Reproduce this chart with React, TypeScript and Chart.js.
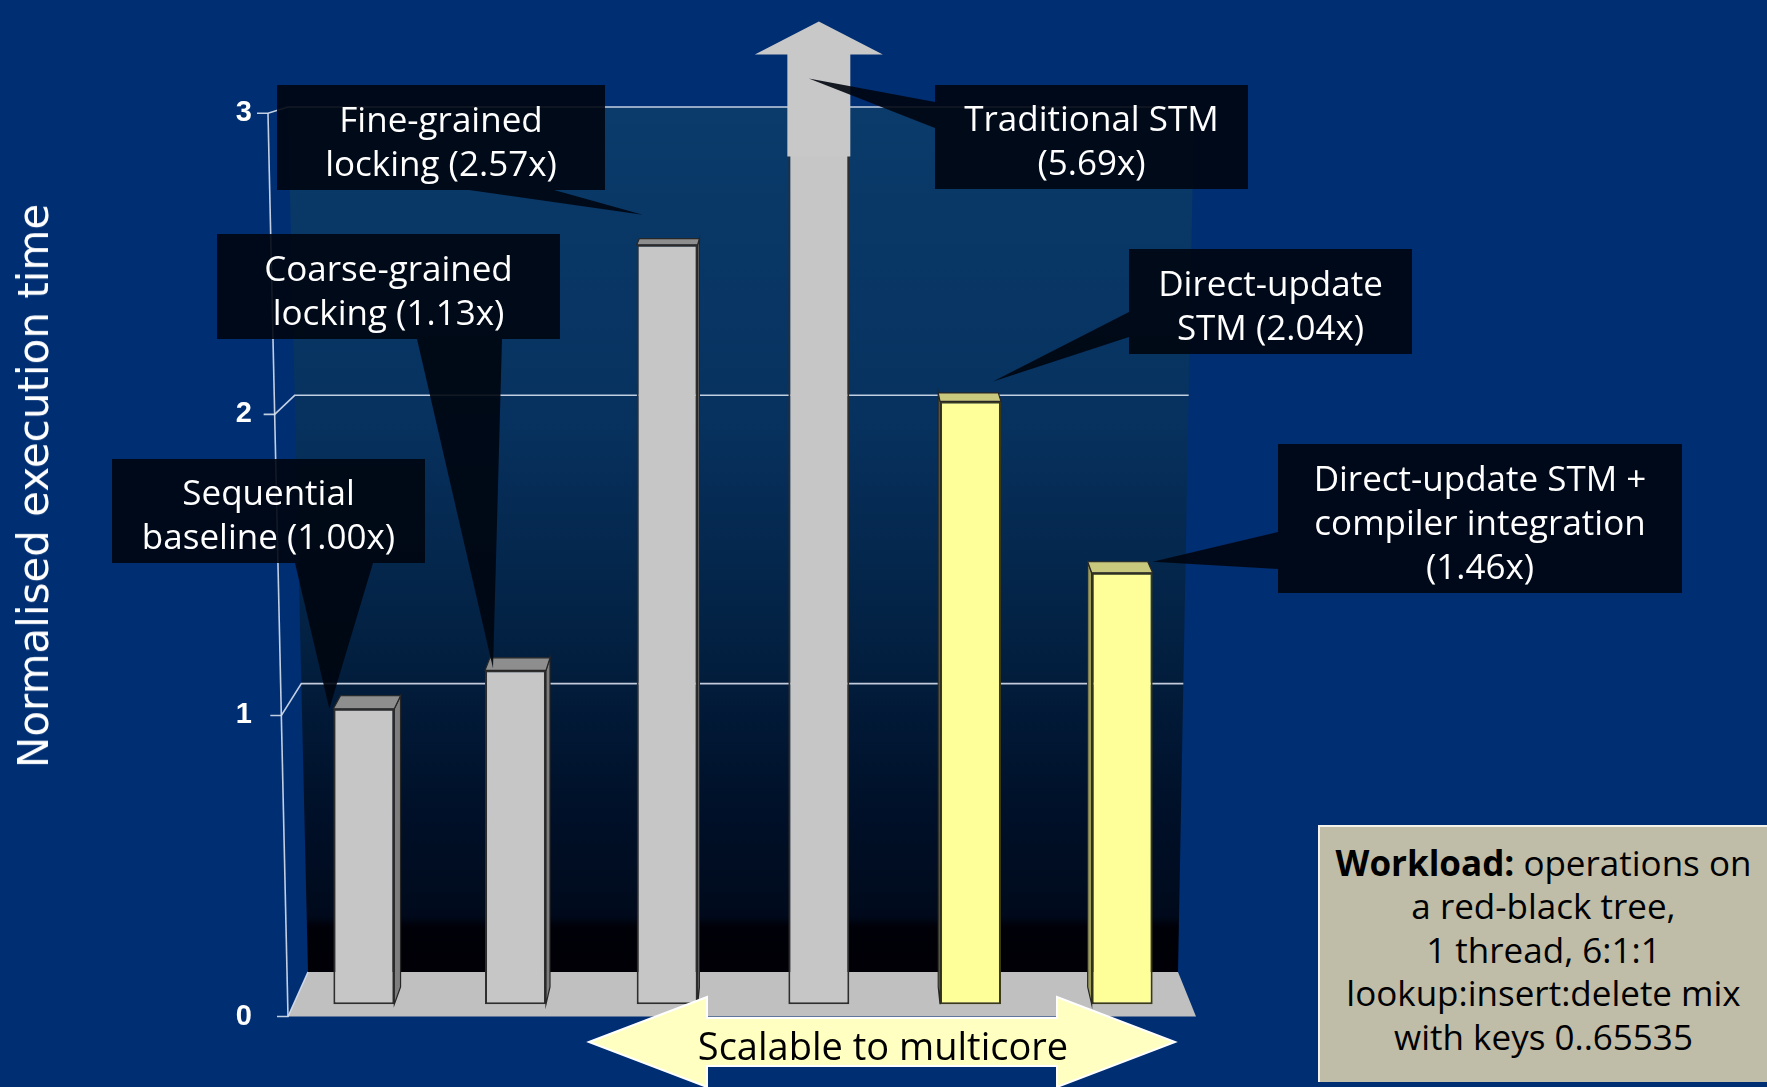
import React, { useEffect, useRef } from "react";
import { Chart, registerables } from "chart.js";

Chart.register(...registerables);

// ---------------- data ----------------
const categories = [
  "Sequential baseline",
  "Coarse-grained locking",
  "Fine-grained locking",
  "Traditional STM",
  "Direct-update STM",
  "Direct-update STM + compiler integration",
];
const values = [1.0, 1.13, 2.57, 5.69, 2.04, 1.46];
const directUpdate = [false, false, false, false, true, true];
const tickValues = [0, 1, 2, 3];
const calloutText = [
  ["Sequential", "baseline (1.00x)"],
  ["Coarse-grained", "locking (1.13x)"],
  ["Fine-grained", "locking (2.57x)"],
  ["Traditional STM", "(5.69x)"],
  ["Direct-update", "STM (2.04x)"],
  ["Direct-update STM +", "compiler integration", "(1.46x)"],
];
const axisTitle = "Normalised execution time";
const arrowText = "Scalable to multicore";
const workloadLines = [
  ["Workload:", " operations on"],
  ["", "a red-black tree,"],
  ["", "1 thread, 6:1:1"],
  ["", "lookup:insert:delete mix"],
  ["", "with keys 0..65535"],
];

// ---------------- layout / style ----------------
const W = 1767;
const H = 1087;
const BG = "#002e72";
const AXIS_W = 288;
const PAD = { left: 0, right: 569, top: 42, bottom: 57 };
const AREA_TOP = PAD.top;
const AREA_BOTTOM = H - PAD.bottom;
const BAR_ZERO = 1004;
const BAR_PPU = 299;
const FRONT_ZERO = 1016.4;
const FRONT_PPU = 304.6;
const BACK_ZERO = 971.3;
const BACK_PPU = 291.7;
const rangeFor = (zero: number, ppu: number) => ({
  min: -(AREA_BOTTOM - zero) / ppu,
  max: (zero - AREA_TOP) / ppu,
});
const VP_Y = -177;
const DEPTH_K = 0.0147;
const BOX_COLOR = "rgba(0,6,16,0.9)";

type Tip = { at: "left" | "right" | "arrow"; dx: number; dy: number };
type Box = { x: number; y: number; w: number; h: number; edge: "bottom" | "left"; b: [number, number]; tip: Tip };
const calloutBoxes: Box[] = [
  { x: 112, y: 459, w: 313, h: 104, edge: "bottom", b: [295, 373], tip: { at: "left", dx: -4, dy: 0 } },
  { x: 217, y: 234, w: 343, h: 105, edge: "bottom", b: [417, 502], tip: { at: "left", dx: 8, dy: -2 } },
  { x: 277, y: 85, w: 328, h: 105, edge: "bottom", b: [469, 554], tip: { at: "left", dx: 6, dy: -30 } },
  { x: 935, y: 85, w: 313, h: 104, edge: "left", b: [102, 128], tip: { at: "arrow", dx: -10, dy: 25 } },
  { x: 1129, y: 249, w: 283, h: 105, edge: "left", b: [312, 337], tip: { at: "right", dx: -8, dy: -20 } },
  { x: 1278, y: 444, w: 404, h: 149, edge: "left", b: [532, 569], tip: { at: "right", dx: 0, dy: -11 } },
];

const decorPlugin = {
  id: "decor3d",
  beforeDatasetsDraw(chart: any) {
    const ctx = chart.ctx as CanvasRenderingContext2D;
    const { left, right } = chart.chartArea;
    const yf = chart.scales.y2;
    const yb = chart.scales.yBack;
    const fx = (v: number) => left - 6.67 * v;
    const bl = (v: number) => left + 20 - 6.67 * v;
    const br = (v: number) => right - 20 + 5.33 * v;
    const top = yb.getPixelForValue(3);
    const bot = yb.getPixelForValue(0);
    ctx.save();
    // back wall
    const g = ctx.createLinearGradient(0, top, 0, bot);
    g.addColorStop(0, "#0a3b6a");
    g.addColorStop(0.35, "#073260");
    g.addColorStop(0.6, "#032244");
    g.addColorStop(0.8, "#00112a");
    g.addColorStop(0.935, "#000a1c");
    g.addColorStop(0.948, "#000008");
    g.addColorStop(1, "#000006");
    ctx.fillStyle = g;
    ctx.beginPath();
    ctx.moveTo(bl(3), top);
    ctx.lineTo(br(3), top);
    ctx.lineTo(br(0), bot);
    ctx.lineTo(bl(0), bot);
    ctx.closePath();
    ctx.fill();
    // floor
    const fy = yf.getPixelForValue(0);
    ctx.fillStyle = "#c0c0c0";
    ctx.beginPath();
    ctx.moveTo(fx(0), fy);
    ctx.lineTo(right - 2, fy);
    ctx.lineTo(br(0), bot);
    ctx.lineTo(bl(0), bot);
    ctx.closePath();
    ctx.fill();
    // grid lines, tick marks and diagonals
    ctx.strokeStyle = "rgba(215,224,238,0.9)";
    ctx.lineWidth = 1.6;
    for (const v of tickValues) {
      const py = yf.getPixelForValue(v);
      const by = yb.getPixelForValue(v);
      ctx.beginPath();
      ctx.moveTo(fx(v) - 11, py);
      ctx.lineTo(fx(v), py);
      ctx.lineTo(bl(v), by);
      if (v > 0) ctx.lineTo(br(v), by);
      ctx.stroke();
    }
    // front axis line
    ctx.beginPath();
    ctx.moveTo(fx(3), yf.getPixelForValue(3));
    ctx.lineTo(fx(0), yf.getPixelForValue(0));
    ctx.stroke();
    ctx.restore();
  },
  afterDatasetsDraw(chart: any) {
    const ctx = chart.ctx as CanvasRenderingContext2D;
    const meta = chart.getDatasetMeta(0);
    const yScale = chart.scales.y;
    const area = chart.chartArea;
    const vx = meta.data[3].x;
    const back = (p: number[]) => [p[0] + (vx - p[0]) * DEPTH_K, p[1] + (VP_Y - p[1]) * DEPTH_K];
    const poly = (pts: number[][], fill: string) => {
      ctx.beginPath();
      ctx.moveTo(pts[0][0], pts[0][1]);
      for (let i = 1; i < pts.length; i++) ctx.lineTo(pts[i][0], pts[i][1]);
      ctx.closePath();
      ctx.fillStyle = fill;
      ctx.fill();
      ctx.strokeStyle = "#262626";
      ctx.lineWidth = 1.2;
      ctx.stroke();
    };
    ctx.save();
    meta.data.forEach((el: any, i: number) => {
      const { x, y, base, width } = el.getProps(["x", "y", "base", "width"], true);
      const L = x - width / 2;
      const R = x + width / 2;
      if (values[i] > yScale.max) {
        // clipped bar: draw the "off the scale" arrow
        ctx.fillStyle = "#c8c8c8";
        ctx.beginPath();
        ctx.moveTo(L - 1, area.top + 103);
        ctx.lineTo(L - 1, area.top + 1);
        ctx.lineTo(x - 64, area.top + 1);
        ctx.lineTo(x, area.top - 32);
        ctx.lineTo(x + 64, area.top + 1);
        ctx.lineTo(R + 1, area.top + 1);
        ctx.lineTo(R + 1, area.top + 103);
        ctx.closePath();
        ctx.fill();
        return;
      }
      const side = directUpdate[i] ? "#9c9c5c" : "#7e7e7e";
      const topc = directUpdate[i] ? "#c9c97e" : "#8e8e8e";
      const TL = [L, y], TR = [R, y], BL = [L, base], BR = [R, base];
      if (R < vx) poly([TR, BR, back(BR), back(TR)], side);
      else if (L > vx) poly([TL, BL, back(BL), back(TL)], side);
      poly([TL, TR, back(TR), back(TL)], topc);
    });
    // callout pointers
    ctx.fillStyle = BOX_COLOR;
    calloutBoxes.forEach((b, i) => {
      const el = meta.data[i];
      const { x, y, width } = el.getProps(["x", "y", "width"], true);
      let tx: number, ty: number;
      if (b.tip.at === "arrow") {
        tx = x + b.tip.dx;
        ty = area.top + b.tip.dy;
      } else {
        tx = (b.tip.at === "left" ? x - width / 2 : x + width / 2) + b.tip.dx;
        ty = y + b.tip.dy;
      }
      ctx.beginPath();
      if (b.edge === "bottom") {
        ctx.moveTo(b.b[0], b.y + b.h);
        ctx.lineTo(b.b[1], b.y + b.h);
      } else {
        ctx.moveTo(b.x, b.b[0]);
        ctx.lineTo(b.x, b.b[1]);
      }
      ctx.lineTo(tx, ty);
      ctx.closePath();
      ctx.fill();
    });
    ctx.restore();
  },
  afterDraw(chart: any) {
    // double-headed "scalable" arrow
    const ctx = chart.ctx as CanvasRenderingContext2D;
    const cy = 1042, tipL = 589, tipR = 1175, baseL = 707, baseR = 1057, hh = 45, sh = 24;
    ctx.save();
    ctx.beginPath();
    ctx.moveTo(tipL, cy);
    ctx.lineTo(baseL, cy - hh);
    ctx.lineTo(baseL, cy - sh);
    ctx.lineTo(baseR, cy - sh);
    ctx.lineTo(baseR, cy - hh);
    ctx.lineTo(tipR, cy);
    ctx.lineTo(baseR, cy + hh);
    ctx.lineTo(baseR, cy + sh);
    ctx.lineTo(baseL, cy + sh);
    ctx.lineTo(baseL, cy + hh);
    ctx.closePath();
    ctx.fillStyle = "#ffffc2";
    ctx.fill();
    ctx.strokeStyle = "#ffffff";
    ctx.lineWidth = 2;
    ctx.stroke();
    ctx.restore();
  },
};

export default function App() {
  const canvasRef = useRef<HTMLCanvasElement | null>(null);

  useEffect(() => {
    document.body.style.margin = "0";
    document.body.style.overflow = "hidden";
    document.documentElement.style.overflow = "hidden";
    const canvas = canvasRef.current;
    if (!canvas) return;
    const barR = rangeFor(BAR_ZERO, BAR_PPU);
    const frontR = rangeFor(FRONT_ZERO, FRONT_PPU);
    const backR = rangeFor(BACK_ZERO, BACK_PPU);
    const chart = new Chart(canvas, {
      type: "bar",
      data: {
        labels: categories,
        datasets: [
          {
            data: values,
            backgroundColor: directUpdate.map((d) => (d ? "#ffff99" : "#c6c6c6")),
            borderColor: directUpdate.map((d) => (d ? "#3a3a1a" : "#2e2e2e")),
            borderWidth: 2,
            borderSkipped: false,
            barPercentage: 0.402,
            categoryPercentage: 1,
            yAxisID: "y",
          },
        ],
      },
      options: {
        responsive: false,
        animation: false,
        devicePixelRatio: 1,
        layout: { padding: PAD },
        plugins: { legend: { display: false }, tooltip: { enabled: false } },
        scales: {
          x: { display: false, offset: true },
          y: { type: "linear", axis: "y", display: false, min: barR.min, max: barR.max },
          yBack: { type: "linear", axis: "y", display: false, min: backR.min, max: backR.max },
          y2: {
            type: "linear",
            axis: "y",
            position: "left",
            min: frontR.min,
            max: frontR.max,
            afterBuildTicks: (s: any) => {
              s.ticks = tickValues.map((v) => ({ value: v }));
            },
            afterFit: (s: any) => {
              s.width = AXIS_W;
            },
            grid: { display: false, drawTicks: false },
            border: { display: false },
            ticks: {
              padding: 36,
              color: "#ffffff",
              font: { family: "'Liberation Sans', Arial, sans-serif", size: 29, weight: "bold" },
              callback: (v: any) => String(v),
            },
          },
        },
      } as any,
      plugins: [decorPlugin],
    });
    return () => chart.destroy();
  }, []);

  const textFont = "'Open Sans', 'Noto Sans', sans-serif";

  return (
    <div style={{ position: "relative", width: W, height: H, background: BG, overflow: "hidden" }}>
      <canvas ref={canvasRef} width={W} height={H} style={{ position: "absolute", left: 0, top: 0, width: W, height: H }} />
      <div
        style={{
          position: "absolute",
          left: 34,
          top: 486,
          transform: "translate(-50%, -50%) rotate(-90deg)",
          whiteSpace: "nowrap",
          color: "#ffffff",
          fontFamily: "'DejaVu Sans', sans-serif",
          fontSize: 42,
          lineHeight: "1",
        }}
      >
        {axisTitle}
      </div>
      {calloutBoxes.map((b, i) => (
        <div
          key={i}
          style={{
            position: "absolute",
            left: b.x,
            top: b.y,
            width: b.w,
            height: b.h,
            boxSizing: "border-box",
            paddingTop: 6,
            background: BOX_COLOR,
            color: "#ffffff",
            display: "flex",
            flexDirection: "column",
            justifyContent: "center",
            alignItems: "center",
            fontFamily: textFont,
            fontSize: 35,
            lineHeight: "44px",
            whiteSpace: "nowrap",
          }}
        >
          {calloutText[i].map((l, j) => (
            <div key={j}>{l}</div>
          ))}
        </div>
      ))}
      <div
        style={{
          position: "absolute",
          left: 1318,
          top: 825,
          width: W - 1318,
          height: 257,
          boxSizing: "border-box",
          background: "#bfbca8",
          borderTop: "2px solid #f2f2ea",
          borderLeft: "2px solid #f2f2ea",
          color: "#000000",
          display: "flex",
          flexDirection: "column",
          justifyContent: "center",
          alignItems: "center",
          fontFamily: textFont,
          fontSize: 35,
          lineHeight: "43.5px",
          whiteSpace: "nowrap",
          paddingBottom: 10,
        }}
      >
        {workloadLines.map((l, j) => (
          <div key={j}>
            {l[0] ? <b>{l[0]}</b> : null}
            {l[1]}
          </div>
        ))}
      </div>
      <div
        style={{
          position: "absolute",
          left: 883,
          top: 1045,
          transform: "translate(-50%, -50%)",
          whiteSpace: "nowrap",
          color: "#000000",
          fontFamily: textFont,
          fontSize: 38,
          lineHeight: "1",
        }}
      >
        {arrowText}
      </div>
    </div>
  );
}
